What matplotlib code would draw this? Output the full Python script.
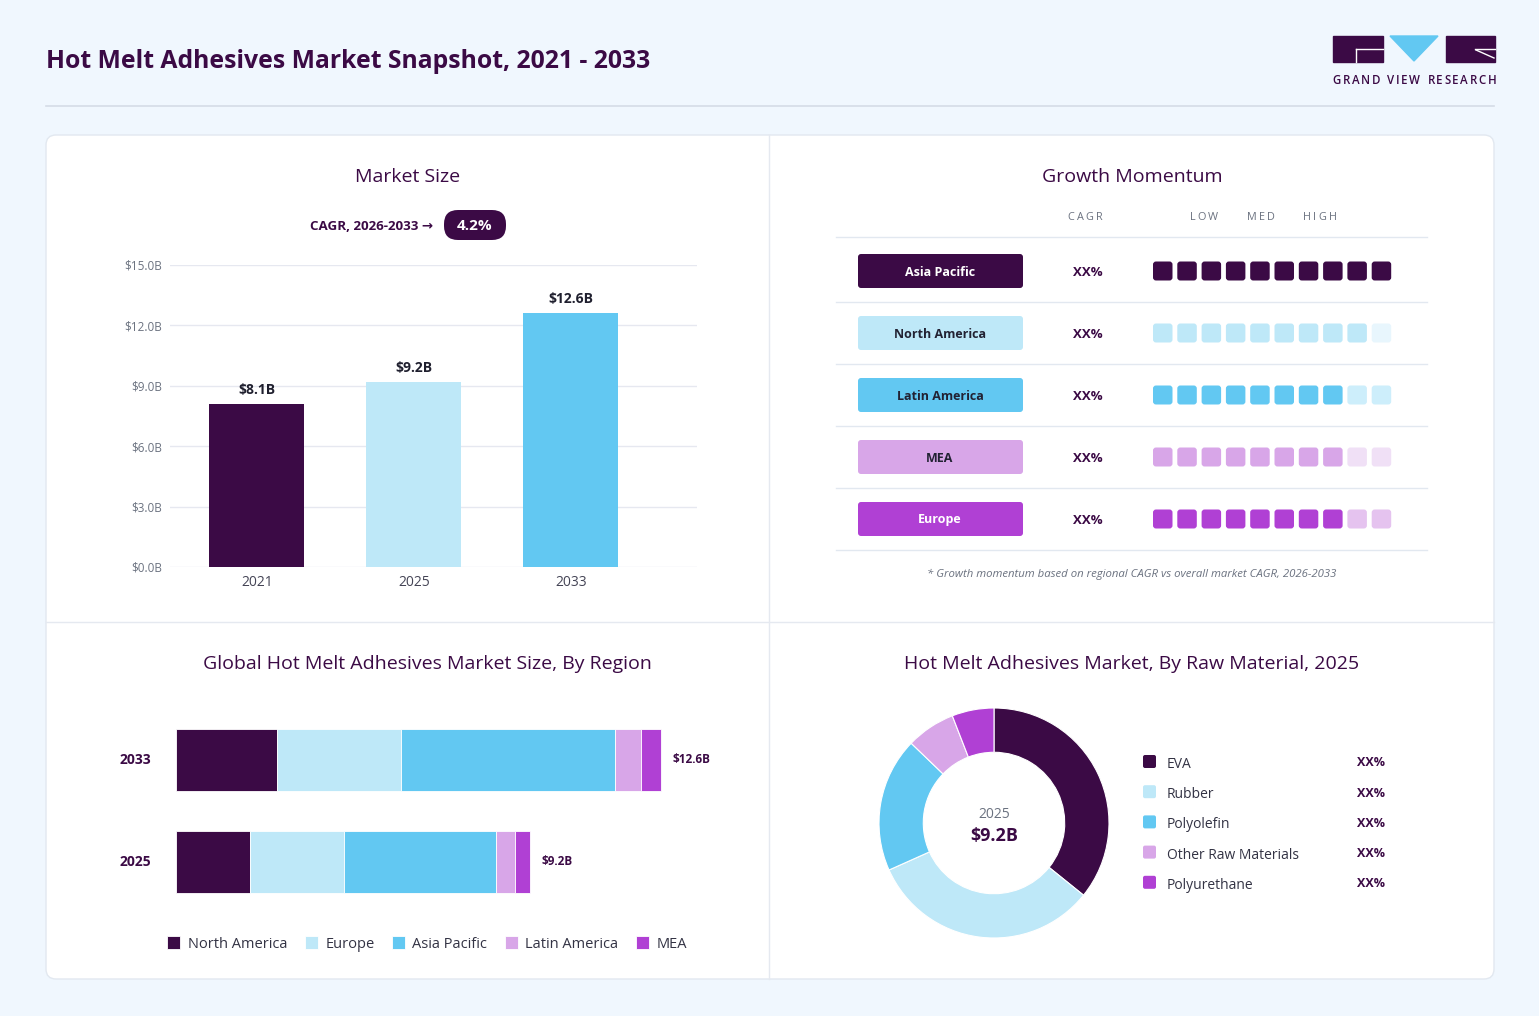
import matplotlib
matplotlib.use("Agg")
import matplotlib.pyplot as plt
from matplotlib.patches import FancyBboxPatch, Rectangle, Polygon

plt.rcParams['font.family'] = ['Open Sans', 'DejaVu Sans']

# ---- data ----
anos = ["2021", "2025", "2033"]
mercado = [8.1, 9.2, 12.6]
rotulos_mercado = ["$8.1B", "$9.2B", "$12.6B"]
cagr_texto = "4.2%"
ticks_y = [0, 3, 6, 9, 12, 15]

regioes_momentum = ["Asia Pacific", "North America", "Latin America", "MEA", "Europe"]
cagr_regioes = ["XX%", "XX%", "XX%", "XX%", "XX%"]
blocos_cheios = [10, 9, 8, 8, 8]

regioes = ["North America", "Europe", "Asia Pacific", "Latin America", "MEA"]
anos_regiao = ["2025", "2033"]
valores_2025 = [1.92, 2.44, 3.96, 0.49, 0.39]
valores_2033 = [2.62, 3.22, 5.56, 0.68, 0.52]
totais_regiao = ["$9.2B", "$12.6B"]

materiais = ["EVA", "Rubber", "Polyolefin", "Other Raw Materials", "Polyurethane"]
participacao = [35.8, 32.5, 18.9, 6.9, 5.9]
rotulos_material = ["XX%", "XX%", "XX%", "XX%", "XX%"]

# ---- colors ----
ROXO = "#3B0A45"
AZUL_CLARO = "#BEE8F8"
AZUL = "#62C8F2"
LILAS = "#D8A6E8"
VIOLETA = "#B040D4"
cores_mercado = [ROXO, AZUL_CLARO, AZUL]
cores_regiao = [ROXO, AZUL_CLARO, AZUL, LILAS, VIOLETA]
cores_momentum = [ROXO, AZUL_CLARO, AZUL, LILAS, VIOLETA]
cores_vazias = ["#E4DDE8", "#E8F6FD", "#CDEEFB", "#F0E0F6", "#E5C3EF"]
texto_caixa = ["white", "#222233", "#222233", "#222233", "white"]
CINZA = "#6B7280"

W, H = 1539, 1016
fig = plt.figure(figsize=(W / 100, H / 100), dpi=100)
fig.patch.set_facecolor("#F0F7FE")
renderer = fig.canvas.get_renderer()


def eixo_px(x0, y0, x1, y1):
    return fig.add_axes([x0 / W, 1 - y1 / H, (x1 - x0) / W, (y1 - y0) / H])


fundo = fig.add_axes([0, 0, 1, 1])
fundo.set_xlim(0, W)
fundo.set_ylim(H, 0)
fundo.axis("off")
fundo.set_zorder(-1)


def texto_espacado(xc, y, s, espaco, **kw):
    # texto com espaçamento entre letras, centrado em xc
    larguras = []
    for ch in s:
        t = fundo.text(0, 0, ch if ch != " " else "n", **kw)
        larguras.append(t.get_window_extent(renderer).width * (0.55 if ch == " " else 1))
        t.remove()
    total = sum(larguras) + espaco * (len(s) - 1)
    x = xc - total / 2
    for ch, w in zip(s, larguras):
        if ch != " ":
            fundo.text(x, y, ch, ha="left", va="center", **kw)
        x += w + espaco


# header
fundo.text(46, 62, "Hot Melt Adhesives Market Snapshot, 2021 - 2033",
           fontsize=17.8, fontweight="bold", color=ROXO, va="center")
fundo.plot([46, 1494], [106, 106], color="#D5DCE6", lw=1.2)

# logo
fundo.add_patch(Rectangle((1333, 36), 50, 26, color=ROXO))
fundo.plot([1356, 1383], [49, 49], color="white", lw=1)
fundo.plot([1356, 1356], [49, 62], color="white", lw=1)
fundo.add_patch(Polygon([(1390, 36), (1438, 36), (1414, 61)], color=AZUL))
fundo.add_patch(Rectangle((1446, 36), 49, 26, color=ROXO))
fundo.plot([1475, 1495], [49, 49], color="white", lw=1)
fundo.plot([1476, 1494], [50, 58], color="white", lw=1)
texto_espacado(1414.5, 80, "GRAND VIEW RESEARCH", 1.6, fontsize=8.3,
               fontweight="semibold", color=ROXO)

# card
fundo.add_patch(FancyBboxPatch((46, 135), 1448, 844,
                               boxstyle="round,pad=0,rounding_size=10",
                               fc="white", ec="#E2E8F0", lw=1))
fundo.plot([769, 769], [135, 979], color="#E5E9F0", lw=1)
fundo.plot([46, 1494], [622, 622], color="#E5E9F0", lw=1)

# panel titles
titulos = [(408, 177, "Market Size"), (1132, 177, "Growth Momentum"),
           (427, 664, "Global Hot Melt Adhesives Market Size, By Region"),
           (1132, 664, "Hot Melt Adhesives Market, By Raw Material, 2025")]
for x, y, t in titulos:
    fundo.text(x, y, t, fontsize=14, color=ROXO, ha="center", va="center")

# ---- Market size ----
fundo.text(433, 226, "CAGR, 2026-2033 \u2192", fontsize=9.6, fontweight="bold",
           color=ROXO, ha="right", va="center")
fundo.add_patch(FancyBboxPatch((444, 210), 62, 30, boxstyle="round,pad=0,rounding_size=14",
                               fc=ROXO, ec="none"))
fundo.text(475, 226, cagr_texto, fontsize=11, fontweight="bold", color="white",
           ha="center", va="center")

ax = eixo_px(170, 265, 697, 567)
ax.set_facecolor("none")
pos = range(len(anos))
ax.bar(pos, mercado, width=0.605, color=cores_mercado, zorder=3)
for p, v, r in zip(pos, mercado, rotulos_mercado):
    ax.text(p, v + 0.35, r, ha="center", va="bottom", fontsize=10,
            fontweight="bold", color="#1F1F2E")
ax.set_xlim(-0.554, 2.803)
ax.set_ylim(0, 15)
ax.set_yticks(ticks_y)
ax.set_yticklabels([f"${t:.1f}B" for t in ticks_y], fontsize=8.5, color=CINZA)
ax.set_xticks(list(pos))
ax.set_xticklabels(anos, fontsize=10, color="#444455")
ax.tick_params(axis="y", length=0, pad=6)
ax.tick_params(axis="x", length=0, pad=6)
ax.grid(axis="y", color="#E6E8F0", lw=1, zorder=0)
for s in ax.spines.values():
    s.set_visible(False)

# ---- Growth momentum ----
for x, t in [(1085, "CAGR"), (1204, "LOW"), (1261, "MED"), (1320, "HIGH")]:
    texto_espacado(x, 218, t, 2.2, fontsize=7.8, color=CINZA)
for y in [237, 302, 364, 426, 488, 550]:
    fundo.plot([836, 1427], [y, y], color="#E2E8F0", lw=1)

for i, nome in enumerate(regioes_momentum):
    yc = 271 + i * 62
    fundo.add_patch(FancyBboxPatch((858, yc - 17), 165, 34,
                                   boxstyle="round,pad=0,rounding_size=3",
                                   fc=cores_momentum[i], ec="none"))
    fundo.text(940, yc + 1, nome, fontsize=9, fontweight="bold", color=texto_caixa[i],
               ha="center", va="center")
    fundo.text(1088, yc + 1, cagr_regioes[i], fontsize=9.5, fontweight="bold", color=ROXO,
               ha="center", va="center")
    for k in range(10):
        cor = cores_momentum[i] if k < blocos_cheios[i] else cores_vazias[i]
        fundo.add_patch(FancyBboxPatch((1153 + k * 24.3, yc - 9.5), 19.5, 19,
                                       boxstyle="round,pad=0,rounding_size=3",
                                       fc=cor, ec="none"))

fundo.text(1132, 574, "* Growth momentum based on regional CAGR vs overall market CAGR, 2026-2033",
           fontsize=8.2, style="italic", color=CINZA, ha="center", va="center")

# ---- Stacked bars by region ----
ax2 = eixo_px(176, 700, 720, 920)
ax2.set_facecolor("none")
esquerda = [0.0, 0.0]
series = list(zip(valores_2025, valores_2033))
for j, nome in enumerate(regioes):
    vals = series[j]
    ax2.barh([0, 1], vals, left=esquerda, height=0.61, color=cores_regiao[j],
             edgecolor="white", lw=0.6, label=nome)
    esquerda = [a + b for a, b in zip(esquerda, vals)]
for p, tot, lab in zip([0, 1], esquerda, totais_regiao):
    ax2.text(tot + 0.3, p, lab, va="center", ha="left", fontsize=8.5,
             fontweight="bold", color=ROXO)
ax2.set_xlim(0, 544 / 38.5)
ax2.set_ylim(-0.569, 1.588)
ax2.axis("off")
for p, a in zip([0, 1], anos_regiao):
    fundo.text(135, 862 - p * 102, a, fontsize=10, fontweight="bold", color=ROXO,
               ha="center", va="center")
ax2.legend(loc="center", bbox_to_anchor=(427 / W, 1 - 944 / H), bbox_transform=fig.transFigure,
           ncol=5, frameon=False, fontsize=10.5, handlelength=0.9, handleheight=0.9,
           handletextpad=0.5, columnspacing=1.2, labelcolor="#333344")

# ---- Donut ----
r = 115
ax3 = eixo_px(994 - r, 823 - r, 994 + r, 823 + r)
ax3.pie(participacao, colors=cores_regiao, startangle=90, counterclock=False,
        radius=1, wedgeprops=dict(width=0.385, edgecolor="white", linewidth=0.8))
ax3.set_xlim(-1, 1)
ax3.set_ylim(-1, 1)
ax3.text(0, 0.07, "2025", ha="center", va="center", fontsize=10, color=CINZA)
ax3.text(0, -0.11, "$9.2B", ha="center", va="center", fontsize=13, fontweight="bold", color=ROXO)

for i, m in enumerate(materiais):
    y = 762 + i * 30.2
    fundo.add_patch(FancyBboxPatch((1143, y - 7), 13, 13, boxstyle="round,pad=0,rounding_size=2",
                                   fc=cores_regiao[i], ec="none"))
    fundo.text(1167, y + 2.5, m, fontsize=10, color="#333344", va="center")
    fundo.text(1385, y + 1, rotulos_material[i], fontsize=9, fontweight="bold", color=ROXO,
               ha="right", va="center")

fig.savefig("out.png", dpi=100, facecolor=fig.get_facecolor())
